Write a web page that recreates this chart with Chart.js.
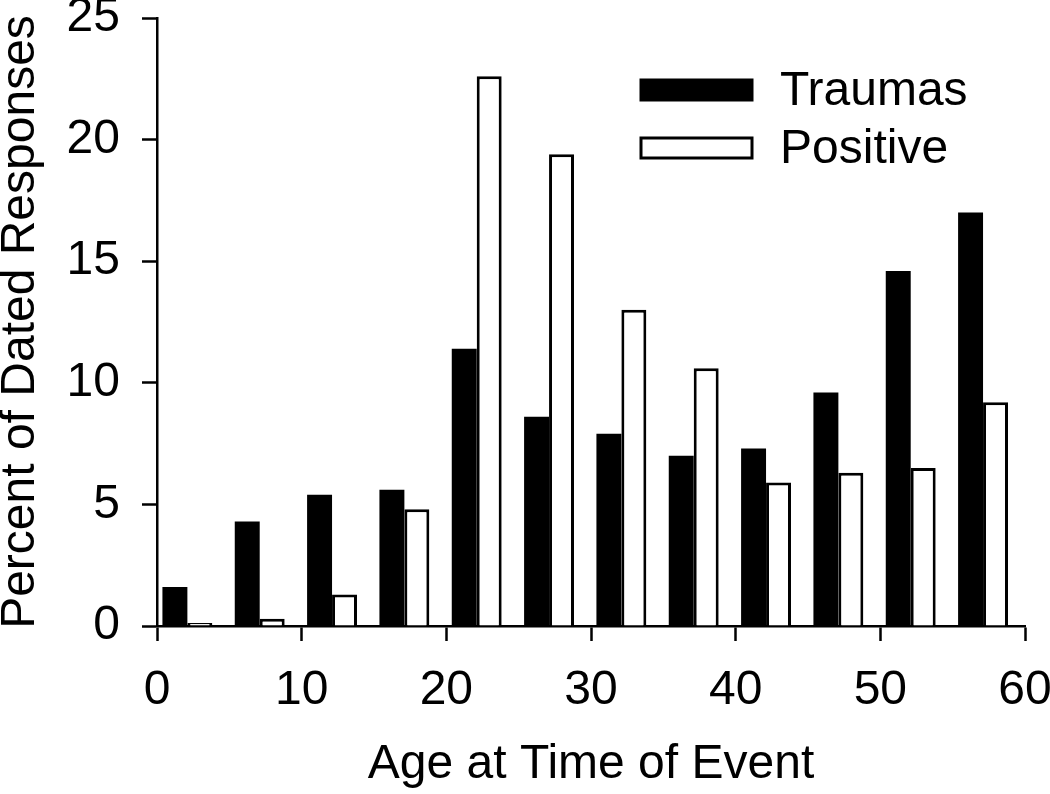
<!DOCTYPE html>
<html>
<head>
<meta charset="utf-8">
<script src="https://cdn.jsdelivr.net/npm/chart.js@4.4.1/dist/chart.umd.min.js"></script>
<style>
  html, body { margin: 0; padding: 0; background: #fff; }
  #wrap { width: 1050px; height: 794px; position: relative; }
</style>
</head>
<body>
<div id="wrap"><canvas id="chart"></canvas></div>
<script>
// Age bins (start of each 5-year bin)
const binStarts = [0, 5, 10, 15, 20, 25, 30, 35, 40, 45, 50, 55];
const traumas = [1.6, 4.3, 5.4, 5.6, 11.4, 8.6, 7.9, 7.0, 7.3, 9.6, 14.6, 17.0];
const positive = [0.12, 0.3, 1.3, 4.8, 22.6, 19.4, 13.0, 10.6, 5.9, 6.3, 6.5, 9.2];
const xTicks = [0, 10, 20, 30, 40, 50, 60];
const yTicks = [0, 5, 10, 15, 20, 25];

const FONT = '"Liberation Sans", Arial, Helvetica, sans-serif';
const binMid = 2.1;

const toPoints = arr => arr.map((v, i) => ({ x: binStarts[i] + binMid, y: v }));

// legend drawn inside plot area, stacked vertically
const boxLegend = {
    id: 'boxLegend',
    afterDraw(chart) {
        const ctx = chart.ctx;
        const area = chart.chartArea;
        const x0 = area.left + 484;
        const rows = [area.top + 62, area.top + 120];
        ctx.save();
        chart.data.datasets.forEach((ds, i) => {
            const y = rows[i];
            ctx.fillStyle = ds.backgroundColor;
            ctx.strokeStyle = '#000';
            ctx.lineWidth = 3;
            ctx.fillRect(x0, y, 111, 20);
            ctx.strokeRect(x0, y, 111, 20);
            ctx.fillStyle = '#000';
            ctx.font = '48px ' + FONT;
            ctx.textBaseline = 'middle';
            ctx.textAlign = 'left';
            ctx.fillText(ds.label, x0 + 139, y + 12);
        });
        ctx.restore();
    }
};

new Chart(document.getElementById('chart'), {
    type: 'bar',
    data: {
        datasets: [
            {
                label: 'Traumas',
                data: toPoints(traumas),
                backgroundColor: '#000',
                borderColor: '#000',
                borderWidth: 0
            },
            {
                label: 'Positive',
                data: toPoints(positive),
                backgroundColor: '#fff',
                borderColor: '#000',
                borderWidth: 3
            }
        ]
    },
    options: {
        responsive: true,
        maintainAspectRatio: false,
        animation: false,
        categoryPercentage: 0.69,
        barPercentage: 1.0,
        layout: { padding: { top: 18, right: 25, bottom: 0, left: 0 } },
        plugins: {
            legend: { display: false },
            tooltip: { enabled: false }
        },
        scales: {
            x: {
                type: 'linear',
                min: 0,
                max: 60,
                offset: false,
                afterBuildTicks: s => { s.ticks = xTicks.map(v => ({ value: v })); },
                afterFit: s => { s.height = 168; s.paddingLeft = 0; s.paddingRight = 0; },
                grid: { display: true, offset: false, drawOnChartArea: false, tickLength: 15, tickWidth: 2.5, tickColor: '#000' },
                border: { display: true, color: '#000', width: 2.5 },
                ticks: { color: '#000', padding: 21, maxRotation: 0, font: { family: FONT, size: 48 } },
                title: { display: true, text: 'Age at Time of Event', color: '#000', padding: { top: 0, bottom: 0 }, font: { family: FONT, size: 48 } }
            },
            y: {
                min: 0,
                max: 25,
                afterBuildTicks: s => { s.ticks = yTicks.map(v => ({ value: v })); },
                afterFit: s => { s.width = 157; s.paddingTop = 0; s.paddingBottom = 0; },
                grid: { display: true, drawOnChartArea: false, tickLength: 15, tickWidth: 2.5, tickColor: '#000' },
                border: { display: true, color: '#000', width: 2.5 },
                ticks: { color: '#000', padding: 22, font: { family: FONT, size: 48 } },
                title: { display: true, text: 'Percent of Dated Responses', color: '#000', padding: { top: 0, bottom: 0 }, font: { family: FONT, size: 48, lineHeight: 0.85 } }
            }
        }
    },
    plugins: [boxLegend]
});
</script>
</body>
</html>
